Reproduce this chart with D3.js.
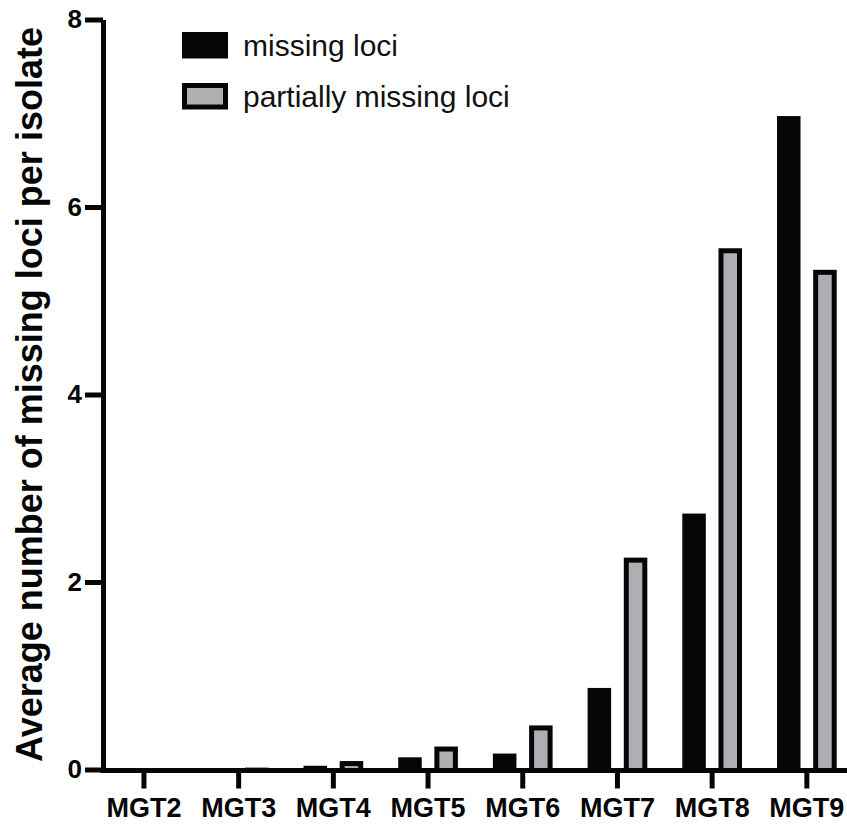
<!DOCTYPE html>
<html>
<head>
<meta charset="utf-8">
<script src="https://cdn.jsdelivr.net/npm/d3@7"></script>
<style>
  body { margin: 0; background: #fff; }
  svg { display: block; font-family: "Liberation Sans", Arial, sans-serif; }
</style>
</head>
<body>
<div id="chart"></div>
<script>
// data
const categories = ["MGT2", "MGT3", "MGT4", "MGT5", "MGT6", "MGT7", "MGT8", "MGT9"];
const missingLoci = [0, 0, 0.04, 0.13, 0.17, 0.87, 2.73, 6.97];
const partialLoci = [0, 0.02, 0.09, 0.245, 0.47, 2.26, 5.56, 5.33];
const seriesNames = ["missing loci", "partially missing loci"];
const yTicks = [0, 2, 4, 6, 8];

const width = 847;
const height = 825;
const axisX = 103;
const black = "#060606";
const grey = "#aeafb3";
const border = 5;

const svg = d3
  .select("#chart")
  .append("svg")
  .attr("width", width)
  .attr("height", height);

const y = d3.scaleLinear().domain([0, 8]).range([769.5, 19.5]);
const x = d3.scaleBand().domain(categories).range([96.6, 854.2]);
const x1 = d3
  .scaleBand()
  .domain(seriesNames)
  .range([17.5, 77.2])
  .paddingInner(0.35);

const rows = categories.map((c, i) => ({
  cat: c,
  missing: missingLoci[i],
  partial: partialLoci[i],
}));

// bars
const groups = svg
  .append("g")
  .selectAll("g")
  .data(rows)
  .enter()
  .append("g")
  .attr("transform", (d) => `translate(${x(d.cat)},0)`);

groups
  .append("rect")
  .attr("x", x1(seriesNames[0]))
  .attr("y", (d) => y(d.missing))
  .attr("width", x1.bandwidth())
  .attr("height", (d) => y(0) - y(d.missing))
  .attr("fill", black);

// partially missing: black frame with grey inside
groups
  .append("rect")
  .attr("x", x1(seriesNames[1]))
  .attr("y", (d) => y(d.partial))
  .attr("width", x1.bandwidth())
  .attr("height", (d) => y(0) - y(d.partial))
  .attr("fill", black);

groups
  .append("rect")
  .attr("x", x1(seriesNames[1]) + border)
  .attr("y", (d) => y(d.partial) + border)
  .attr("width", x1.bandwidth() - 2 * border)
  .attr("height", (d) => Math.max(0, y(0) - y(d.partial) - border))
  .attr("fill", grey);

// y axis
const yAxis = d3
  .axisLeft(y)
  .tickValues(yTicks)
  .tickSize(18)
  .tickSizeOuter(0)
  .tickPadding(3)
  .tickFormat(d3.format("d"));

const yg = svg
  .append("g")
  .attr("transform", `translate(${axisX},0)`)
  .call(yAxis);
yg.select(".domain").attr("stroke", black).attr("stroke-width", 5);
yg.selectAll(".tick line").attr("stroke", black).attr("stroke-width", 5);
yg.selectAll(".tick text")
  .attr("fill", black)
  .attr("font-size", 26)
  .attr("font-weight", "bold")
  .attr("font-family", '"Liberation Sans", Arial, sans-serif');

// x axis
const xAxis = d3.axisBottom(x).tickSize(18).tickSizeOuter(0).tickPadding(9);
const xg = svg
  .append("g")
  .attr("transform", `translate(0,${y(0) + 1})`)
  .call(xAxis);
xg.select(".domain").remove();
xg.append("line")
  .attr("x1", axisX - 2.5)
  .attr("x2", width)
  .attr("stroke", black)
  .attr("stroke-width", 5);
xg.selectAll(".tick line").attr("stroke", black).attr("stroke-width", 5);
xg.selectAll(".tick text")
  .attr("fill", black)
  .attr("font-size", 27)
  .attr("font-weight", "bold")
  .attr("font-family", '"Liberation Sans", Arial, sans-serif');

// y title
svg
  .append("text")
  .attr("transform", `translate(42,${(y(0) + y(8)) / 2}) rotate(-90)`)
  .attr("text-anchor", "middle")
  .attr("font-size", 36)
  .attr("font-weight", "bold")
  .attr("fill", black)
  .text("Average number of missing loci per isolate");

// legend
const legend = svg
  .append("g")
  .attr("transform", "translate(182,32)")
  .selectAll("g")
  .data(seriesNames)
  .enter()
  .append("g")
  .attr("transform", (d, i) => `translate(0,${i * 51})`);

legend
  .append("rect")
  .attr("width", 46)
  .attr("height", 26.5)
  .attr("fill", black);

legend
  .filter((d, i) => i === 1)
  .append("rect")
  .attr("x", border)
  .attr("y", border)
  .attr("width", 46 - 2 * border)
  .attr("height", 26.5 - 2 * border)
  .attr("fill", grey);

legend
  .append("text")
  .attr("x", 61)
  .attr("y", 24)
  .attr("font-size", 30)
  .attr("fill", "#111")
  .text((d) => d);
</script>
</body>
</html>
